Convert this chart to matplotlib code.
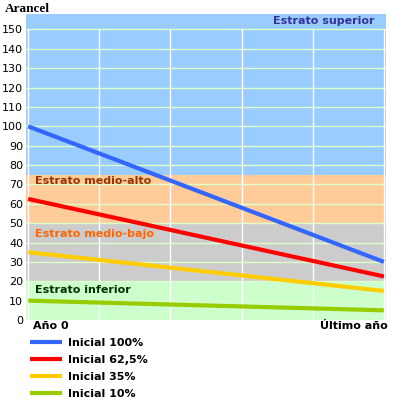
import matplotlib.pyplot as plt

# data
years = [0, 5]
series_names = ['Inicial 100%', 'Inicial 62,5%', 'Inicial 35%', 'Inicial 10%']
series_values = [[100, 30], [62.5, 22.5], [35, 15], [10, 5]]
series_colors = ['#3366ff', '#ff0000', '#ffcc00', '#99cc00']

band_edges = [0, 20, 50, 75, 158]
band_colors = ['#ccffcc', '#cccccc', '#ffcc99', '#99ccff']
band_names = ['Estrato inferior', 'Estrato medio-bajo', 'Estrato medio-alto', 'Estrato superior']
band_text_colors = ['#003300', '#ff6600', '#993300', '#333399']
y_ticks = list(range(0, 151, 10))

W, H = 396, 401
fig = plt.figure(figsize=(W / 100, H / 100), dpi=100)
ax = fig.add_axes([26 / W, 1 - 320 / H, 360 / W, 306 / H])

for lo, hi, c in zip(band_edges[:-1], band_edges[1:], band_colors):
    ax.axhspan(lo, hi, color=c, lw=0, zorder=0)

for y in y_ticks[1:]:
    ax.axhline(y, color='#ddffc8', lw=1.0, zorder=1)
for x in range(0, 6):
    ax.axvline(x, ymin=0, ymax=150 / 158, color='white', lw=1.0, zorder=1)

for name, vals, c in zip(series_names, series_values, series_colors):
    ax.plot(years, vals, color=c, lw=3, label=name, zorder=3, solid_capstyle='butt')

ax.set_xlim(-0.03, 5.03)
ax.set_ylim(0, 158)
ax.set_yticks(y_ticks)
ax.tick_params(axis='y', length=0, labelsize=8, pad=2)
ax.set_xticks([])
for s in ax.spines.values():
    s.set_visible(False)

tx = dict(fontsize=8, fontweight='bold', zorder=4)
ax.text(0.1, 69, band_names[2], color=band_text_colors[2], va='bottom', **tx)
ax.text(0.1, 42, band_names[1], color=band_text_colors[1], va='bottom', **tx)
ax.text(0.1, 13, band_names[0], color=band_text_colors[0], va='bottom', **tx)
ax.text(4.87, 152, band_names[3], color=band_text_colors[3], va='bottom', ha='right', **tx)

fig.text(5 / W, 1 - 12 / H, 'Arancel', family='Liberation Serif', fontweight='bold',
         fontsize=9.5, va='baseline')
fig.text(33 / W, 1 - 326 / H, 'Año 0', fontsize=8, fontweight='bold', va='center')
fig.text(388 / W, 1 - 326 / H, 'Último año', fontsize=8, fontweight='bold',
         va='center', ha='right')

leg = fig.legend(loc='upper left', bbox_to_anchor=(30 / W, 1 - 338 / H), frameon=False,
                 borderpad=0, borderaxespad=0, handlelength=2.9, handletextpad=0.55,
                 labelspacing=0.62, prop={'size': 8, 'weight': 'bold'})
for line in leg.get_lines():
    line.set_linewidth(3)

fig.savefig('out.png', dpi=100)
